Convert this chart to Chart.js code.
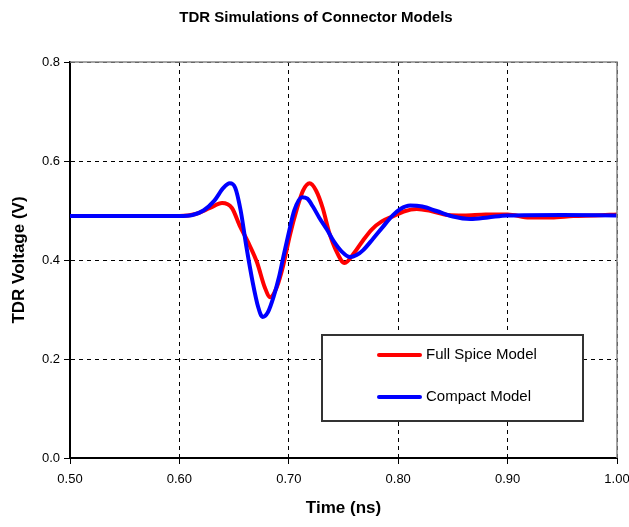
<!DOCTYPE html>
<html>
<head>
<meta charset="utf-8">
<script src="https://cdn.jsdelivr.net/npm/chart.js@4/dist/chart.umd.min.js"></script>
<style>
  html, body { margin: 0; padding: 0; background: #fff; }
  #wrap { width: 629px; height: 527px; }
</style>
</head>
<body>
<div id="wrap"><canvas id="tdr"></canvas></div>
<script>
// red curve: full spice model
let fullTime = [0.50, 0.60, 0.615, 0.628, 0.639, 0.648, 0.655, 0.663, 0.671, 0.678, 0.683, 0.689, 0.695, 0.701, 0.707, 0.713, 0.719, 0.725, 0.731, 0.737, 0.743, 0.751, 0.760, 0.768, 0.776, 0.785, 0.795, 0.805, 0.817, 0.830, 0.845, 0.860, 0.880, 0.900, 0.920, 0.940, 0.960, 0.980, 1.00]
let fullVolt = [0.489, 0.489, 0.493, 0.505, 0.515, 0.505, 0.470, 0.435, 0.395, 0.345, 0.325, 0.345, 0.390, 0.450, 0.500, 0.540, 0.555, 0.540, 0.505, 0.455, 0.420, 0.394, 0.415, 0.440, 0.462, 0.478, 0.488, 0.498, 0.503, 0.499, 0.491, 0.490, 0.492, 0.492, 0.486, 0.486, 0.489, 0.490, 0.492]

// blue curve: compact model
let compactTime = [0.50, 0.60, 0.612, 0.622, 0.632, 0.640, 0.646, 0.651, 0.656, 0.661, 0.667, 0.672, 0.676, 0.681, 0.686, 0.691, 0.695, 0.700, 0.705, 0.712, 0.717, 0.722, 0.728, 0.735, 0.741, 0.748, 0.756, 0.762, 0.768, 0.777, 0.786, 0.795, 0.802, 0.811, 0.822, 0.835, 0.850, 0.866, 0.882, 0.900, 0.950, 1.00]
let compactVolt = [0.489, 0.489, 0.491, 0.500, 0.520, 0.545, 0.555, 0.546, 0.500, 0.430, 0.355, 0.305, 0.285, 0.295, 0.325, 0.365, 0.406, 0.455, 0.500, 0.527, 0.524, 0.508, 0.485, 0.461, 0.438, 0.418, 0.406, 0.410, 0.420, 0.443, 0.467, 0.490, 0.503, 0.510, 0.508, 0.499, 0.488, 0.483, 0.486, 0.490, 0.491, 0.490]

let seriesNames = ['Full Spice Model', 'Compact Model']
let seriesColors = ['#ff0000', '#0000ff']

let xTicks = [0.5, 0.6, 0.7, 0.8, 0.9, 1.0]
let yTicks = [0.0, 0.2, 0.4, 0.6, 0.8]

let chartTitle = 'TDR Simulations of Connector Models'
let xTitle = 'Time (ns)'
let yTitle = 'TDR Voltage (V)'

const FONT = "'Liberation Sans', Arial, sans-serif"

function toPoints(xs, ys) {
    return xs.map((x, i) => ({ x: x, y: ys[i] }))
}

// title, plot frame and the boxed legend
let extras = {
    id: 'extras',
    afterDraw(chart) {
        let ctx = chart.ctx
        let a = chart.chartArea
        ctx.save()

        ctx.fillStyle = '#000'
        ctx.font = 'bold 15px ' + FONT
        ctx.textAlign = 'center'
        ctx.textBaseline = 'middle'
        ctx.fillText(chartTitle, 316, 18)

        // top and right frame
        ctx.strokeStyle = '#888'
        ctx.lineWidth = 1.5
        ctx.beginPath()
        ctx.moveTo(a.left, a.top)
        ctx.lineTo(a.right, a.top)
        ctx.lineTo(a.right, a.bottom)
        ctx.stroke()

        // legend
        let bx = 322, by = 335, bw = 261, bh = 86
        ctx.fillStyle = '#fff'
        ctx.fillRect(bx, by, bw, bh)
        ctx.strokeStyle = '#333'
        ctx.lineWidth = 2
        ctx.strokeRect(bx, by, bw, bh)
        ctx.font = '15px ' + FONT
        ctx.textAlign = 'left'
        seriesNames.forEach((name, i) => {
            let ly = 355 + i * 42
            ctx.strokeStyle = seriesColors[i]
            ctx.lineWidth = 4
            ctx.lineCap = 'round'
            ctx.beginPath()
            ctx.moveTo(379, ly)
            ctx.lineTo(420, ly)
            ctx.stroke()
            ctx.fillStyle = '#000'
            ctx.fillText(name, 426, ly)
        })
        ctx.restore()
    }
}

let ctx = document.getElementById('tdr').getContext('2d')

let myChart = new Chart(ctx, {
    type: 'line',
    data: {
        datasets: [{
            label: seriesNames[0],
            data: toPoints(fullTime, fullVolt),
            borderColor: seriesColors[0],
            backgroundColor: seriesColors[0],
            borderWidth: 4,
            pointRadius: 0,
            cubicInterpolationMode: 'monotone',
            order: 1
        }, {
            label: seriesNames[1],
            data: toPoints(compactTime, compactVolt),
            borderColor: seriesColors[1],
            backgroundColor: seriesColors[1],
            borderWidth: 4,
            pointRadius: 0,
            cubicInterpolationMode: 'monotone',
            order: 0
        }]
    },
    options: {
        responsive: true,
        maintainAspectRatio: false,
        animation: false,
        layout: { padding: { left: 0, right: 3, top: 62, bottom: 0 } },
        plugins: {
            legend: { display: false },
            tooltip: { enabled: false },
            title: { display: false }
        },
        scales: {
            x: {
                type: 'linear',
                min: 0.5,
                max: 1.0,
                afterFit: s => { s.height = 69; s.paddingRight = 12 },
                afterBuildTicks: s => { s.ticks = xTicks.map(v => ({ value: v })) },
                ticks: {
                    color: '#000',
                    font: { family: FONT, size: 13 },
                    padding: 8,
                    maxRotation: 0,
                    callback: v => v.toFixed(2)
                },
                grid: { color: '#000', lineWidth: 1, tickLength: 6, tickColor: '#000' },
                border: { color: '#000', width: 2, dash: [4, 4] },
                title: {
                    display: true,
                    text: xTitle,
                    color: '#000',
                    font: { family: FONT, size: 17, weight: 'bold' },
                    padding: { top: 0, bottom: 8 }
                }
            },
            y: {
                min: 0,
                max: 0.8,
                afterFit: s => { s.width = 70 },
                afterBuildTicks: s => { s.ticks = yTicks.map(v => ({ value: v })) },
                ticks: {
                    color: '#000',
                    font: { family: FONT, size: 13 },
                    padding: 4,
                    callback: v => v.toFixed(1)
                },
                grid: { color: '#000', lineWidth: 1, tickLength: 6, tickColor: '#000' },
                border: { color: '#000', width: 2, dash: [4, 4] },
                title: {
                    display: true,
                    text: yTitle,
                    color: '#000',
                    font: { family: FONT, size: 17, weight: 'bold' },
                    padding: { top: 9, bottom: 0 }
                }
            }
        }
    },
    plugins: [extras]
})
</script>
</body>
</html>
